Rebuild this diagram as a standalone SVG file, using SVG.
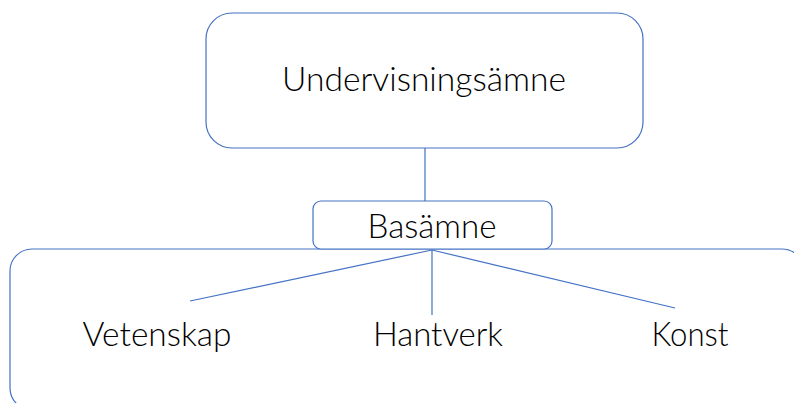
<svg xmlns="http://www.w3.org/2000/svg" width="794" height="403" viewBox="0 0 794 403">
<style>
.box{fill:#fff;stroke:#4472C4;stroke-width:1.2}
.lbl{font-family:Lato,"Open Sans","Liberation Sans",sans-serif;font-weight:300;fill:#000;text-anchor:middle}
.conn{stroke:#4472C4;stroke-width:1.2;fill:none}
</style>
<rect width="794" height="403" fill="#fff"/>
<g id="container">
<rect class="box" x="10" y="249" width="794" height="161" rx="22" ry="22"/>
</g>
<g id="connectors">
<line class="conn" x1="425" y1="148" x2="425" y2="201"/>
<line class="conn" x1="432" y1="250" x2="190" y2="301"/>
<line class="conn" x1="432" y1="250" x2="432" y2="315"/>
<line class="conn" x1="432" y1="250" x2="675" y2="308"/>
</g>
<g id="node-undervisningsamne">
<rect class="box" x="206" y="13" width="437" height="135" rx="26" ry="26"/>
<text class="lbl" x="424" y="91" font-size="34" textLength="284" lengthAdjust="spacingAndGlyphs">Undervisningsämne</text>
</g>
<g id="node-basamne">
<rect class="box" x="313" y="201" width="239" height="48" rx="8" ry="8"/>
<text class="lbl" x="432" y="238" font-size="33" textLength="129" lengthAdjust="spacingAndGlyphs">Basämne</text>
</g>
<g id="node-vetenskap">
<text class="lbl" x="157" y="346" font-size="33" textLength="149" lengthAdjust="spacingAndGlyphs">Vetenskap</text>
</g>
<g id="node-hantverk">
<text class="lbl" x="438" y="346" font-size="33" textLength="130" lengthAdjust="spacingAndGlyphs">Hantverk</text>
</g>
<g id="node-konst">
<text class="lbl" x="690" y="346" font-size="33" textLength="77" lengthAdjust="spacingAndGlyphs">Konst</text>
</g>
</svg>
